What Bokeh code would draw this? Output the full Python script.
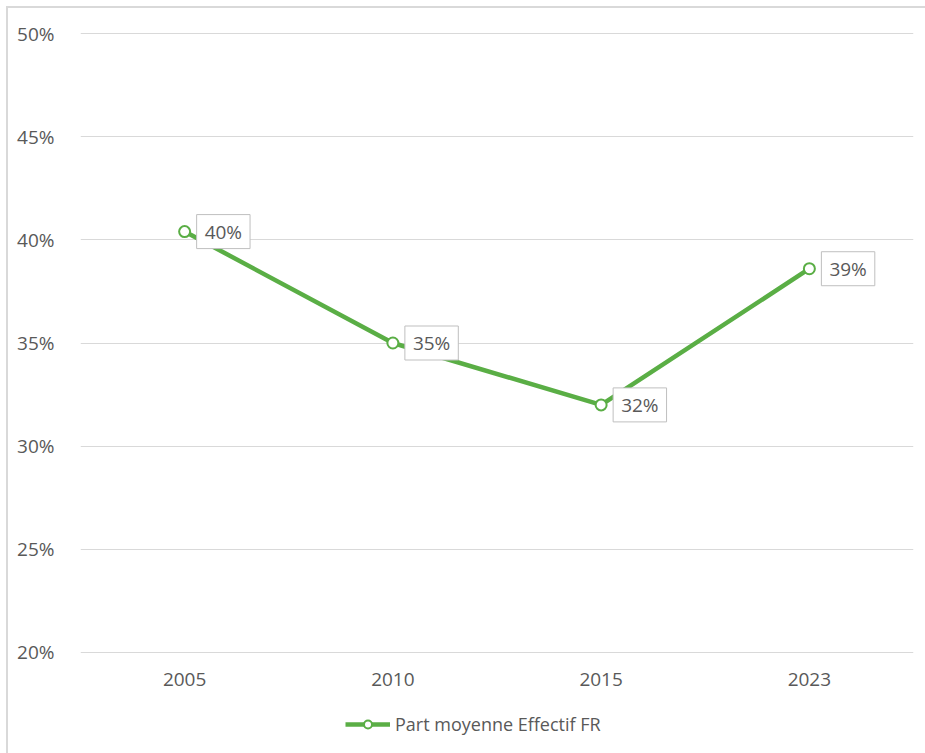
import numpy as np
from bokeh.plotting import figure
from bokeh.layouts import column
from bokeh.models import (ColumnDataSource, Range1d, FixedTicker, NumeralTickFormatter,
                          Label, Legend, LegendItem)
from bokeh.embed import file_html
from bokeh.resources import INLINE

# Average share of French staff, by survey year
years = ["2005", "2010", "2015", "2023"]
share = [0.404, 0.350, 0.320, 0.386]
y_ticks = [0.20, 0.25, 0.30, 0.35, 0.40, 0.45, 0.50]
series_name = "Part moyenne Effectif FR"

GREEN = "#5aae45"
TEXT = "#595959"
GRID = "#d9d9d9"
FONT = "Open Sans"
EDGE = "2px solid #d9d9d9"

labels = ["{:.0f}%".format(v * 100) for v in share]
source = ColumnDataSource(dict(year=years, share=share, label=labels))

line_style = dict(line_color=GREEN, line_width=4.5)
marker_style = dict(size=11, marker="circle", fill_color="white", line_color=GREEN, line_width=2)

# one pixel of slack above 50% and below 20% so those grid lines stay inside the frame
px = 0.30 / 617
p = figure(
    x_range=years,
    y_range=Range1d(0.20 - px, 0.50 + px),
    frame_width=831,
    frame_height=619,
    output_backend="svg",
    toolbar_location=None,
    min_border_left=72,
    min_border_right=14,
    min_border_top=24,
    min_border_bottom=55,
)
p.margin = (6, 0, 0, 6)
p.styles = {"border-top": EDGE, "border-left": EDGE}
p.outline_line_color = None
p.background_fill_color = "white"
p.border_fill_color = "white"

# grid
p.xgrid.grid_line_color = None
p.ygrid.grid_line_color = GRID
p.ygrid.grid_line_width = 1

# y axis
p.yaxis.ticker = FixedTicker(ticks=y_ticks)
p.yaxis.formatter = NumeralTickFormatter(format="0%")
p.yaxis.axis_line_color = None
p.yaxis.major_tick_line_color = None
p.yaxis.minor_tick_line_color = None
p.yaxis.major_label_standoff = 20
p.yaxis.major_label_text_font = FONT
p.yaxis.major_label_text_font_size = "19px"
p.yaxis.major_label_text_color = TEXT

# x axis
p.xaxis.axis_line_color = None
p.xaxis.major_tick_line_color = None
p.xaxis.minor_tick_line_color = None
p.xaxis.major_label_standoff = 13
p.xaxis.major_label_text_font = FONT
p.xaxis.major_label_text_font_size = "19px"
p.xaxis.major_label_text_color = TEXT

# series
p.line(x="year", y="share", source=source, **line_style)
p.scatter(x="year", y="share", source=source, **marker_style)

# value labels in boxes (x in synthetic categorical coordinates: factor i sits at i + 0.5)
for i, (v, txt) in enumerate(zip(share, labels)):
    p.add_layout(Label(
        x=i + 0.5, y=v, text=txt,
        x_offset=12, y_offset=0,
        text_align="left", text_baseline="middle",
        text_font=FONT, text_font_size="19px", text_color=TEXT,
        background_fill_color="white",
        border_line_color="#bfbfbf", border_line_width=1,
        padding=dict(x=8, y=4),
    ))

# legend strip under the chart: same glyph styles, a single undrawn (NaN) row
leg = figure(
    width=917, height=47,
    x_axis_type=None, y_axis_type=None,
    output_backend="svg", toolbar_location=None,
    min_border=0,
)
leg.margin = (0, 0, 0, 6)
leg.styles = {"border-left": EDGE}
leg.outline_line_color = None
leg.grid.visible = False
leg.background_fill_color = "white"
leg.border_fill_color = "white"
placeholder = ColumnDataSource(dict(x=np.array([np.nan]), y=np.array([np.nan])))
k_line = leg.line(x="x", y="y", source=placeholder, **line_style)
k_pts = leg.scatter(x="x", y="y", source=placeholder, **marker_style)

legend = Legend(
    items=[LegendItem(label=series_name, renderers=[k_line, k_pts])],
    orientation="horizontal",
    location=(265, 17),
    border_line_color=None,
    background_fill_alpha=0,
    label_text_font=FONT,
    label_text_font_size="18px",
    label_text_color=TEXT,
    glyph_width=45,
    glyph_height=20,
    label_standoff=5,
    padding=0,
    spacing=0,
    margin=0,
)
leg.add_layout(legend)

layout = column(p, leg, spacing=0)
open("out.html", "w").write(file_html(layout, INLINE))
